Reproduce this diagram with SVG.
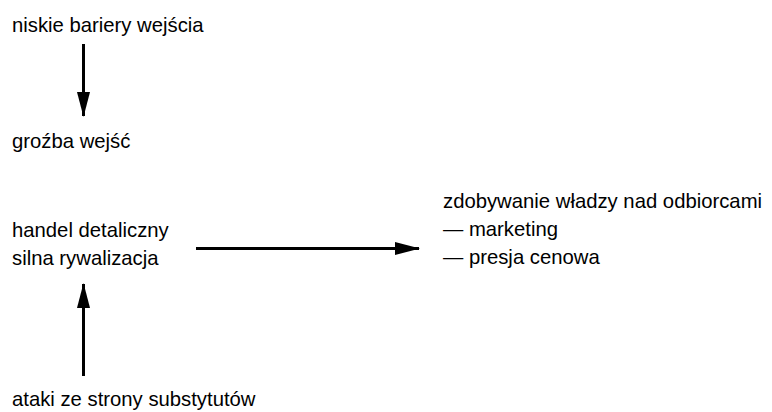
<svg xmlns="http://www.w3.org/2000/svg" width="772" height="412" viewBox="0 0 772 412">
  <style>
    text { font-family: "Liberation Sans", Arial, Helvetica, sans-serif; font-size: 20.3px; fill: #000; }
    .edge { stroke: #000; stroke-width: 3; fill: none; }
  </style>
  <defs>
    <marker id="arrow" markerUnits="userSpaceOnUse" markerWidth="26" markerHeight="14" viewBox="0 0 25 14" refX="24" refY="7" orient="auto">
      <path d="M0,0.5 L25,7 L0,13.5 Z" fill="#000"/>
    </marker>
  </defs>
  <rect width="772" height="412" fill="#fff"/>

  <g id="bariery">
    <text x="12" y="32">niskie bariery wejścia</text>
  </g>
  <g id="grozba">
    <text x="12" y="148">groźba wejść</text>
  </g>
  <g id="handel">
    <text x="12" y="237">handel detaliczny</text>
    <text x="12" y="265">silna rywalizacja</text>
  </g>
  <g id="odbiorcy">
    <text x="443" y="208">zdobywanie władzy nad odbiorcami</text>
    <text x="443" y="236">— marketing</text>
    <text x="443" y="264">— presja cenowa</text>
  </g>
  <g id="substytuty">
    <text x="12" y="406">ataki ze strony substytutów</text>
  </g>

  <g id="connectors">
    <line class="edge" x1="83.5" y1="44" x2="83.5" y2="116" marker-end="url(#arrow)"/>
    <line class="edge" x1="196" y1="248.5" x2="419" y2="248.5" marker-end="url(#arrow)"/>
    <line class="edge" x1="83.5" y1="376" x2="83.5" y2="284" marker-end="url(#arrow)"/>
  </g>
</svg>
